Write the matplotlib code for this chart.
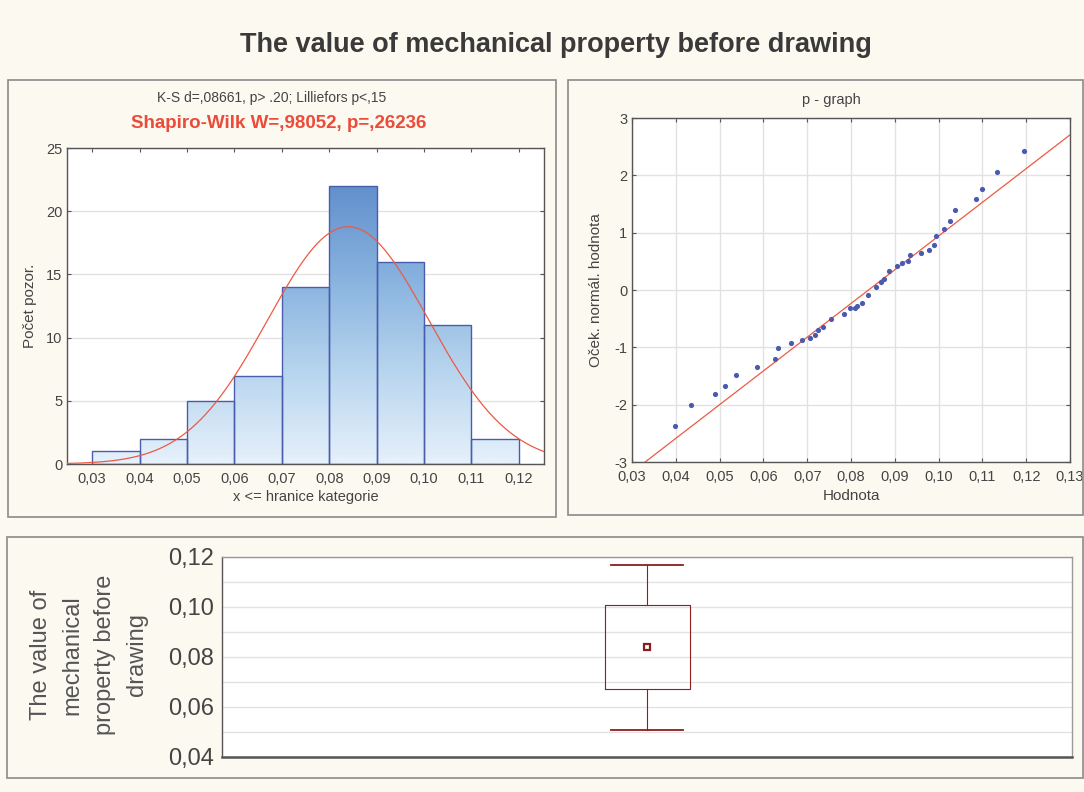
import numpy as np
import matplotlib
matplotlib.use("Agg")
import matplotlib.pyplot as plt
from matplotlib.colors import LinearSegmentedColormap
from matplotlib.patches import Rectangle

plt.rcParams['font.family'] = ['Liberation Sans', 'DejaVu Sans']
plt.rcParams['axes.unicode_minus'] = False

# histogram data
bin_edges = [0.03, 0.04, 0.05, 0.06, 0.07, 0.08, 0.09, 0.10, 0.11, 0.12]
counts = [1, 2, 5, 7, 14, 22, 16, 11, 2]
hist_xticks = [0.03, 0.04, 0.05, 0.06, 0.07, 0.08, 0.09, 0.10, 0.11, 0.12]
hist_xlabels = ['0,03', '0,04', '0,05', '0,06', '0,07', '0,08', '0,09', '0,10', '0,11', '0,12']

# fitted normal
mean = 0.084
sd = 0.0170
n_obs = 80

# normal probability plot points
qq_x = [0.0399, 0.0435, 0.0489, 0.0513, 0.0537, 0.0585, 0.0627, 0.0634, 0.0664, 0.0688,
        0.0706, 0.0718, 0.0724, 0.0736, 0.0754, 0.0784, 0.0797, 0.0809, 0.0814, 0.0826,
        0.0838, 0.0857, 0.0869, 0.0875, 0.0887, 0.0905, 0.0917, 0.0929, 0.0935, 0.0959,
        0.0977, 0.0989, 0.0995, 0.1013, 0.1025, 0.1037, 0.1086, 0.1098, 0.1134, 0.1194]
qq_y = [-2.37, -2.00, -1.82, -1.68, -1.49, -1.35, -1.21, -1.02, -0.93, -0.88,
        -0.83, -0.79, -0.70, -0.65, -0.51, -0.42, -0.32, -0.32, -0.28, -0.23,
        -0.09, 0.05, 0.14, 0.19, 0.33, 0.42, 0.47, 0.51, 0.61, 0.65,
        0.70, 0.79, 0.94, 1.07, 1.21, 1.40, 1.58, 1.77, 2.05, 2.42]
qq_xticks = [0.03, 0.04, 0.05, 0.06, 0.07, 0.08, 0.09, 0.10, 0.11, 0.12, 0.13]
qq_xlabels = ['0,03', '0,04', '0,05', '0,06', '0,07', '0,08', '0,09', '0,10', '0,11', '0,12', '0,13']

# box plot (mean, +-SD, +-1.96 SD)
box_mean = 0.084
box_lo = 0.0672
box_hi = 0.1008
whisk_lo = 0.0508
whisk_hi = 0.1170
box_yticks = [0.04, 0.06, 0.08, 0.10, 0.12]
box_ylabels = ['0,04', '0,06', '0,08', '0,10', '0,12']

bg = '#fcf9f1'
txt = '#444444'
spine_col = '#555555'
grid_col = '#e2e2e2'

fig = plt.figure(figsize=(10.84, 7.92), dpi=100, facecolor=bg)

# panel frames
for (x0, y0, x1, y1) in [(8, 80, 556, 517), (568, 80, 1083, 515), (7, 537, 1083, 778)]:
    fig.patches.append(Rectangle((x0 / 1084, 1 - y1 / 792), (x1 - x0) / 1084, (y1 - y0) / 792,
                                 transform=fig.transFigure, fill=False,
                                 edgecolor='#8a8a8a', lw=1.2))

fig.text(0.513, 1 - 45 / 792, 'The value of mechanical property before drawing',
         ha='center', va='center', fontsize=19.5, fontweight='bold', color='#3a3a3a')


def style_axes(ax):
    for s in ax.spines.values():
        s.set_color(spine_col)
        s.set_linewidth(1.0)
    ax.tick_params(direction='in', top=True, right=True, colors=spine_col,
                   labelcolor=txt, length=3, width=0.8)
    ax.tick_params(axis='x', pad=6)


# ---- histogram ----
ax1 = fig.add_axes([67 / 1084, 1 - 464 / 792, (544 - 67) / 1084, (464 - 148) / 792])
style_axes(ax1)
ax1.set_yticks([0, 5, 10, 15, 20, 25])
ax1.yaxis.grid(True, color=grid_col, lw=1)
ax1.set_axisbelow(True)

cmap = LinearSegmentedColormap.from_list('bars', ['#e6f1fb', '#b6d4ee', '#86b1de', '#5f8dca'])
grad = np.linspace(0, 1, 256).reshape(-1, 1)
bars = ax1.bar(bin_edges[:-1], counts, width=0.01, align='edge',
               facecolor='none', edgecolor='#4a5cae', lw=1.0, zorder=3)
for b in bars:
    im = ax1.imshow(grad, cmap=cmap, origin='lower', aspect='auto',
                    extent=(0.0247, 0.1253, 0, 22.5), zorder=2)
    im.set_clip_path(b)
ax1.set_xlim(0.0247, 0.1253)
ax1.set_ylim(0, 25)

xs = np.linspace(0.0247, 0.1253, 300)
pdf = n_obs * 0.01 / (sd * np.sqrt(2 * np.pi)) * np.exp(-0.5 * ((xs - mean) / sd) ** 2)
ax1.plot(xs, pdf, color='#ec5a45', lw=0.9, zorder=4)

ax1.set_xticks(hist_xticks)
ax1.set_xticklabels(hist_xlabels)
ax1.tick_params(labelsize=10.5)
ax1.set_xlabel('x <= hranice kategorie', fontsize=10.5, color=txt, labelpad=3)
ax1.set_ylabel('Počet pozor.', fontsize=11, color=txt, labelpad=6)
fig.text(272 / 1084, 1 - 98 / 792, 'K-S d=,08661, p> .20; Lilliefors p<,15',
         ha='center', va='center', fontsize=10, color=txt)
fig.text(279 / 1084, 1 - 124 / 792, 'Shapiro-Wilk W=,98052, p=,26236',
         ha='center', va='center', fontsize=13.5, fontweight='bold', color='#ec4b3a')

# ---- normal probability plot ----
ax2 = fig.add_axes([632 / 1084, 1 - 462 / 792, (1070 - 632) / 1084, (462 - 118) / 792])
style_axes(ax2)
ax2.set_xlim(0.03, 0.13)
ax2.set_ylim(-3, 3)
ax2.grid(True, color=grid_col, lw=1)
ax2.set_axisbelow(True)
lx = np.array([0.03, 0.13])
ax2.plot(lx, (lx - mean) / sd, color='#ec5a45', lw=0.9, zorder=3)
ax2.scatter(qq_x, qq_y, s=14, color='#4a5aad', zorder=4, linewidths=0)
ax2.set_xticks(qq_xticks)
ax2.set_xticklabels(qq_xlabels)
ax2.set_yticks([-3, -2, -1, 0, 1, 2, 3])
ax2.tick_params(labelsize=10.5)
ax2.set_xlabel('Hodnota', fontsize=11, color=txt, labelpad=3)
ax2.set_ylabel('Oček. normál. hodnota', fontsize=11, color=txt, labelpad=8)
fig.text(831 / 1084, 1 - 100 / 792, 'p - graph', ha='center', va='center',
         fontsize=10.5, color=txt)

# ---- box plot ----
ax3 = fig.add_axes([222 / 1084, 1 - 757 / 792, (1072 - 222) / 1084, (757 - 557) / 792])
for s in ax3.spines.values():
    s.set_color('#9a9a9a')
    s.set_linewidth(1.0)
ax3.spines['bottom'].set_color(spine_col)
ax3.spines['bottom'].set_linewidth(1.8)
ax3.spines['left'].set_color(spine_col)
ax3.set_ylim(0.04, 0.12)
ax3.set_yticks(box_yticks)
ax3.set_yticks([0.05, 0.07, 0.09, 0.11], minor=True)
ax3.yaxis.grid(True, which='both', color=grid_col, lw=1)
ax3.set_axisbelow(True)
ax3.set_yticklabels(box_ylabels)
ax3.tick_params(axis='y', which='both', length=0, labelsize=17, labelcolor=txt, pad=6)
ax3.tick_params(axis='x', length=0, labelbottom=False)

stats = [{'med': box_mean, 'mean': box_mean, 'q1': box_lo, 'q3': box_hi,
          'whislo': whisk_lo, 'whishi': whisk_hi, 'fliers': []}]
box_red = '#8b1e1e'
ax3.bxp(stats, positions=[1], widths=0.2, capwidths=0.17, showmeans=True,
        boxprops=dict(color=box_red, lw=0.8),
        whiskerprops=dict(color=box_red, lw=0.8),
        capprops=dict(color=box_red, lw=1.3),
        medianprops=dict(visible=False),
        meanprops=dict(marker='s', markersize=5, markerfacecolor='white',
                       markeredgecolor=box_red, markeredgewidth=1.6))
ax3.set_xlim(0, 2)
ax3.set_xticks([])
fig.text(89 / 1084, 1 - 655 / 792, 'The value of\nmechanical\nproperty before\ndrawing',
         rotation=90, ha='center', va='center', multialignment='center',
         fontsize=17, color='#555555', linespacing=1.6)

fig.savefig('out.png', dpi=100, facecolor=bg)
